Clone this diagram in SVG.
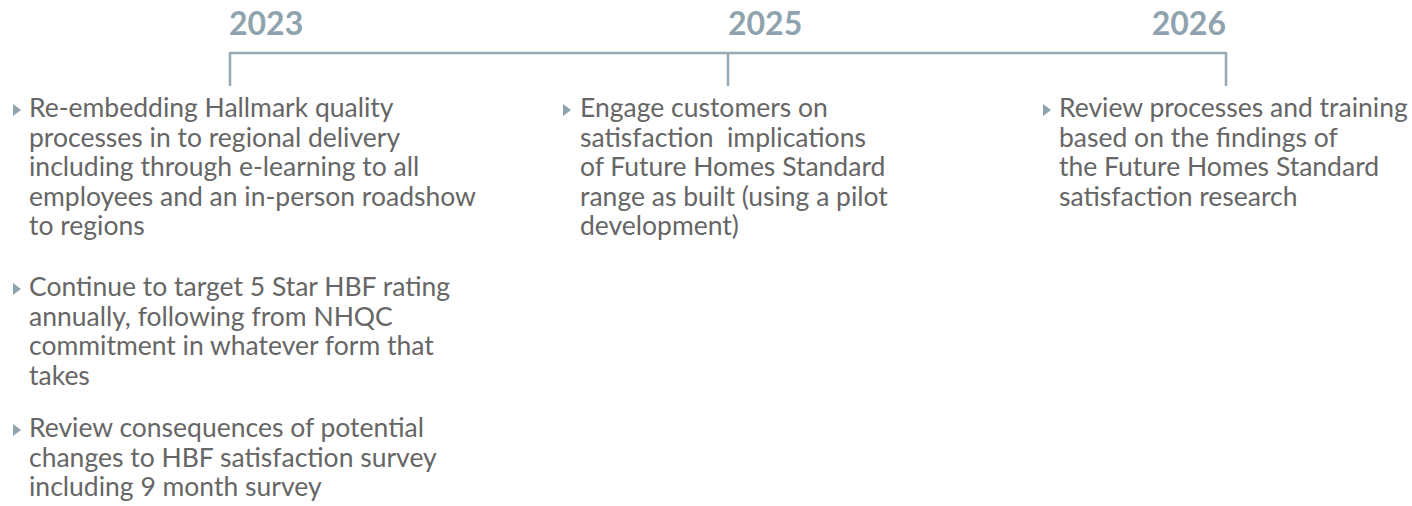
<svg xmlns="http://www.w3.org/2000/svg" width="1412" height="506" viewBox="0 0 1412 506">
  <style>
    .year { font-family: Lato, "Noto Sans", sans-serif; font-weight: 700; font-size: 32px; fill: #8fa3ae; }
    .item { font-family: Lato, "Noto Sans", sans-serif; font-size: 26.5px; fill: #666666; white-space: pre; }
    .axis { stroke: #96a9b3; stroke-width: 2.5; fill: none; }
    .tri { fill: #8fa3ae; }
  </style>
  <defs>
    <path id="bullet" d="M0,-6 L8,0 L0,6 Z"/>
  </defs>

  <!-- timeline axis -->
  <g id="connectors">
    <path class="axis" d="M230,86 V53 H1226 V86"/>
    <path class="axis" d="M728,53 V86"/>
  </g>

  <g id="y2023">
    <text class="year" x="229" y="35">2023</text>
    <use href="#bullet" class="tri" x="13" y="110"/>
    <text class="item">
      <tspan x="29" y="117">Re-embedding Hallmark quality</tspan>
      <tspan x="29" y="146.5">processes in to regional delivery</tspan>
      <tspan x="29" y="176">including through e-learning to all</tspan>
      <tspan x="29" y="205.5">employees and an in-person roadshow</tspan>
      <tspan x="29" y="235">to regions</tspan>
    </text>
    <use href="#bullet" class="tri" x="13" y="289"/>
    <text class="item">
      <tspan x="29" y="296">Continue to target 5 Star HBF rating</tspan>
      <tspan x="29" y="325.5">annually, following from NHQC</tspan>
      <tspan x="29" y="355">commitment in whatever form that</tspan>
      <tspan x="29" y="384.5">takes</tspan>
    </text>
    <use href="#bullet" class="tri" x="13" y="430"/>
    <text class="item">
      <tspan x="29" y="437">Review consequences of potential</tspan>
      <tspan x="29" y="466.5">changes to HBF satisfaction survey</tspan>
      <tspan x="29" y="496">including 9 month survey</tspan>
    </text>
  </g>

  <g id="y2025">
    <text class="year" x="728" y="35">2025</text>
    <use href="#bullet" class="tri" x="563" y="110"/>
    <text class="item">
      <tspan x="580" y="117">Engage customers on</tspan>
      <tspan x="580" y="146.5">satisfaction  implications</tspan>
      <tspan x="580" y="176">of Future Homes Standard</tspan>
      <tspan x="580" y="205.5">range as built (using a pilot</tspan>
      <tspan x="580" y="235">development)</tspan>
    </text>
  </g>

  <g id="y2026">
    <text class="year" x="1226" y="35" text-anchor="end">2026</text>
    <use href="#bullet" class="tri" x="1043" y="110"/>
    <text class="item">
      <tspan x="1059" y="117">Review processes and training</tspan>
      <tspan x="1059" y="146.5">based on the findings of</tspan>
      <tspan x="1059" y="176">the Future Homes Standard</tspan>
      <tspan x="1059" y="205.5">satisfaction research</tspan>
    </text>
  </g>
</svg>
